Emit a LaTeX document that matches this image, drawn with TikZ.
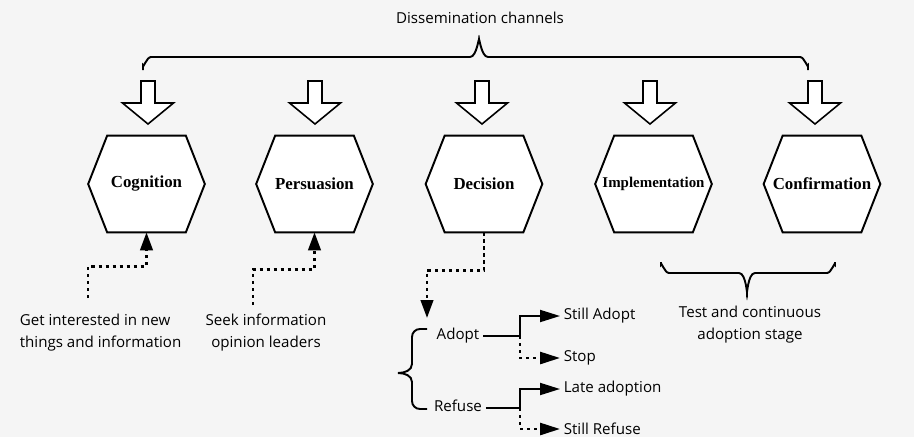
\documentclass[tikz,border=0pt]{standalone}
\usepackage{fontspec}
\setmainfont{Liberation Serif}
\newfontfamily\sansf{Open Sans}
\usetikzlibrary{arrows.meta,calc,backgrounds}
\begin{document}
\begin{tikzpicture}[x=0.02cm,y=-0.02cm,
  hexnode/.style={minimum width=2.32cm,minimum height=1.92cm,inner sep=0pt,
    font=\bfseries\fontsize{9.6}{11}\selectfont},
  hexline/.style={line width=1.1pt,fill=white,line join=miter},
  blockarrow/.style={line width=0.9pt,fill=white,line join=miter},
  lbl/.style={font=\sansf\fontsize{8.6}{12.5}\selectfont,inner sep=2pt},
  brace/.style={line width=1.1pt},
  dotted line/.style={line width=1.5pt,dash pattern=on 1.8pt off 2.2pt},
  tipbig/.style={-{Triangle[length=0.36cm,width=0.25cm]}},
  tipbranch/.style={-{Triangle[length=0.4cm,width=0.24cm]}},
  solidline/.style={line width=1.1pt}
]
\useasboundingbox (0,0) rectangle (914,437);

% hexagon nodes
\node[hexnode] (cog) at (146.5,184) {Cognition};
\node[hexnode] (per) at (314.5,184) {Persuasion};
\node[hexnode] (dec) at (484,184) {\raisebox{-0.08cm}{Decision}};
\node[hexnode,font=\bfseries\fontsize{8.5}{10}\selectfont] (imp) at (653.5,184) {Implementation};
\node[hexnode] (con) at (822,184) {Confirmation};

\begin{pgfonlayer}{background}
  \fill[black!4] (0,0) rectangle (914,437);
  \foreach \n in {cog,per,dec,imp,con}{
    \draw[hexline] ($(\n.north west)+(19,0)$) -- ($(\n.north east)+(-19,0)$)
      -- (\n.east) -- ($(\n.south east)+(-19,0)$) -- ($(\n.south west)+(19,0)$)
      -- (\n.west) -- cycle;
  }
\end{pgfonlayer}

% title and top brace
\node[lbl] (title) at (480,18) {Dissemination channels};
\draw[brace] (143,70) -- (143,65) to[out=-90,in=180] (151,57) -- (470,57)
  to[out=0,in=90] (479,41) to[out=90,in=180] (488,57) -- (800,57)
  to[out=0,in=-90] (808,65) -- (808,70);

% block arrows
\foreach \x in {148,315,482,650,815}{
  \draw[blockarrow] (\x-7,81) -- (\x+7,81) -- (\x+7,103) -- (\x+25.5,103)
    -- (\x,124) -- (\x-25.5,103) -- (\x-7,103) -- cycle;
}

% lower-left labels
\node[lbl,anchor=west,align=left] (t1) at (16,333) {Get interested in new\\things and information};
\node[lbl,align=center] (t2) at (266,333) {Seek information\\opinion leaders};
\coordinate (c1) at (88,298);
\coordinate (c2) at (253,305);
\draw[dotted line,tipbig] (c1) |- ($(cog.south)+(0,34)$) -- (cog.south);
\draw[dotted line,tipbig] (c2) |- ($(per.south)+(0,37)$) -- (per.south);

% decision branch
\coordinate (da) at (427,318);
\draw[dotted line,tipbig] (dec.south) -- ($(dec.south)+(0,38)$) -| (da);
\draw[brace] (427,329) -- (420,329) to[out=180,in=90] (412,337) -- (412,364)
  to[out=-90,in=0] (398,373) to[out=0,in=90] (412,382) -- (412,401)
  to[out=-90,in=180] (420,409) -- (427,409);
\node[lbl] (adopt) at (458,336) {Adopt};
\node[lbl] (refuse) at (458,406) {Refuse};
\node[lbl,anchor=west] (sa) at (560,316) {Still Adopt};
\node[lbl,anchor=west] (stop) at (560,358) {Stop};
\node[lbl,anchor=west] (late) at (560,389) {Late adoption};
\node[lbl,anchor=west] (sr) at (560,429) {Still Refuse};
\coordinate (ja) at (520,336);
\coordinate (jr) at (520,408);
\draw[solidline,tipbranch] (adopt.east) -- (ja) |- (sa.west);
\draw[dotted line,tipbranch] (ja) |- (stop.west);
\draw[solidline,tipbranch] (refuse.east |- jr) -- (jr) |- (late.west);
\draw[dotted line,tipbranch] (jr) |- (sr.west);

% bottom right brace
\draw[brace] (661,262) -- (661,265) to[out=90,in=180] (669,273) -- (739,273)
  to[out=0,in=-90] (747,290) to[out=-90,in=180] (755,273) -- (827,273)
  to[out=0,in=90] (835,265) -- (835,262);
\node[lbl,align=center] (t3) at (750,325) {Test and continuous\\adoption stage};
\end{tikzpicture}
\end{document}
